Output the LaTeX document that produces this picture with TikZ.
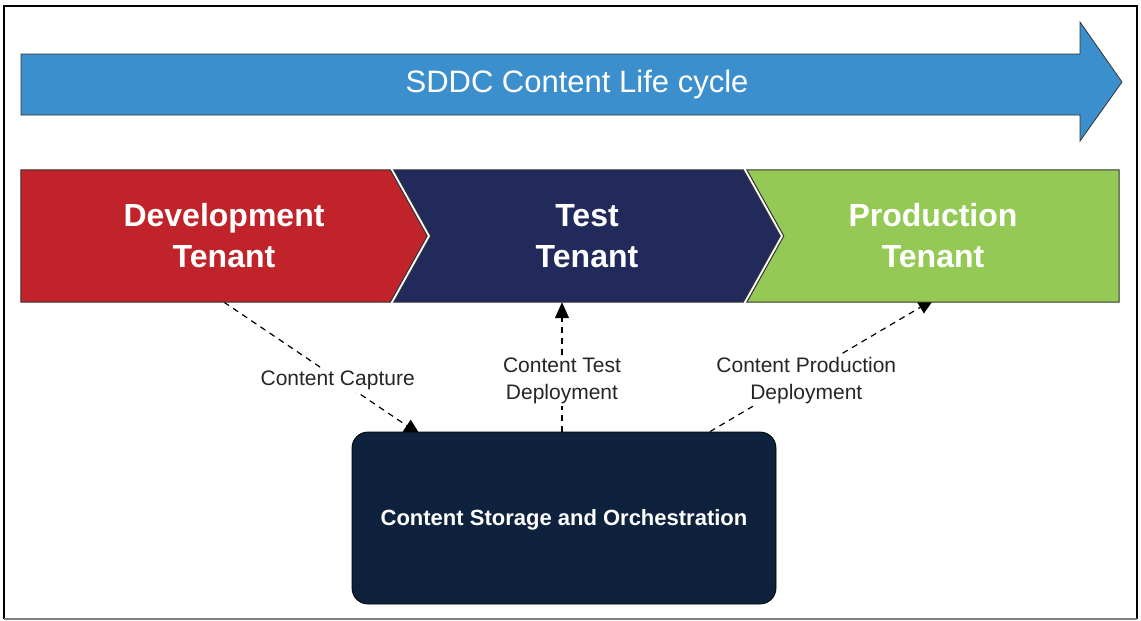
\documentclass[tikz,border=0pt]{standalone}
\usepackage{fontspec}
\setmainfont{Liberation Sans}
\usetikzlibrary{calc,arrows.meta}
\pgfdeclarelayer{bg}
\pgfdeclarelayer{shapes}
\pgfsetlayers{bg,shapes,main}
\definecolor{lcblue}{HTML}{3C8FCD}
\definecolor{devred}{HTML}{C0232A}
\definecolor{testnavy}{HTML}{222A5C}
\definecolor{prodgreen}{HTML}{95C955}
\definecolor{boxnavy}{HTML}{0F223D}
\definecolor{edgegray}{HTML}{333333}
\begin{document}
\begin{tikzpicture}[x=1pt,y=-1pt,
  tenant/.style={minimum height=132pt, inner sep=0pt, text=white,
    font=\fontsize{32}{41}\selectfont\bfseries, align=center},
  chev/.style={draw=edgegray, line width=1pt},
  flow/.style={draw=black, line width=1.2pt, dash pattern=on 6pt off 5pt,
    -{Triangle[length=16pt,width=14pt]}},
  flowlabel/.style={fill=white, inner sep=2pt, text=black!85,
    font=\fontsize{21}{27}\selectfont, align=center}
]
\useasboundingbox (0,0) rectangle (1141,621);
\begin{pgfonlayer}{bg}
  \fill[white] (0,0) rectangle (1141,621);
\end{pgfonlayer}

% life cycle arrow
\draw[fill=lcblue, draw=edgegray, line width=0.8pt]
  (21,54) -- (1080,54) -- (1080,22) -- (1122,82) -- (1080,141) -- (1080,115) -- (21,115) -- cycle;
\node[text=white, font=\fontsize{31}{36}\selectfont] (lc) at (577,84) {SDDC Content Life cycle};

% tenants
\node[tenant, minimum width=406pt] (dev) at (224,236) {Development\\Tenant};
\node[tenant, minimum width=386pt] (test) at (587,236) {Test\\Tenant};
\node[tenant, minimum width=372pt] (prod) at (933,236) {Production\\Tenant};

\begin{pgfonlayer}{shapes}
  \draw[chev, fill=devred] (dev.north west) -- ($(dev.north east)+(-37,0)$) -- (dev.east)
    -- ($(dev.south east)+(-37,0)$) -- (dev.south west) -- cycle;
  \draw[chev, fill=testnavy] (test.north west) -- ($(test.north east)+(-37,0)$) -- (test.east)
    -- ($(test.south east)+(-37,0)$) -- (test.south west) -- ($(test.west)+(37,0)$) -- cycle;
  \draw[chev, fill=prodgreen] (prod.north west) -- (prod.north east) -- (prod.south east)
    -- (prod.south west) -- ($(prod.west)+(37,0)$) -- cycle;
\end{pgfonlayer}

% storage box
\node[draw=black, line width=0.8pt, fill=boxnavy, rounded corners=16pt,
  minimum width=424pt, minimum height=172pt, text=white,
  font=\fontsize{22}{26}\selectfont\bfseries] (box) at (564,518) {};
\node[text=white, font=\fontsize{22}{26}\selectfont\bfseries] (boxtext) at ($(box.center)+(0,2)$)
  {Content Storage and Orchestration};

% connectors
\begin{pgfonlayer}{bg}
  \draw[flow] (dev.south) -- ($(box.north)+(-144,3)$)
    node[flowlabel, pos=0.58, yshift=-1pt] {Content Capture};
  \draw[flow] ($(box.north)+(-2,0)$) -- ($(test.south)+(-25,0)$)
    node[flowlabel, pos=0.415, yshift=-3pt] {Content Test\\Deployment};
  \draw[flow] ($(box.north)+(146,0)$) -- ($(prod.south)+(1,-3)$)
    node[flowlabel, pos=0.43, yshift=-6pt] {Content Production\\Deployment};
\end{pgfonlayer}

% frame
\draw[line width=2.5pt] (4,619) -- (4,6) -- (1137,6) -- (1137,619);
\draw[gray, line width=2pt] (4,619) -- (1137,619);
\end{tikzpicture}
\end{document}
